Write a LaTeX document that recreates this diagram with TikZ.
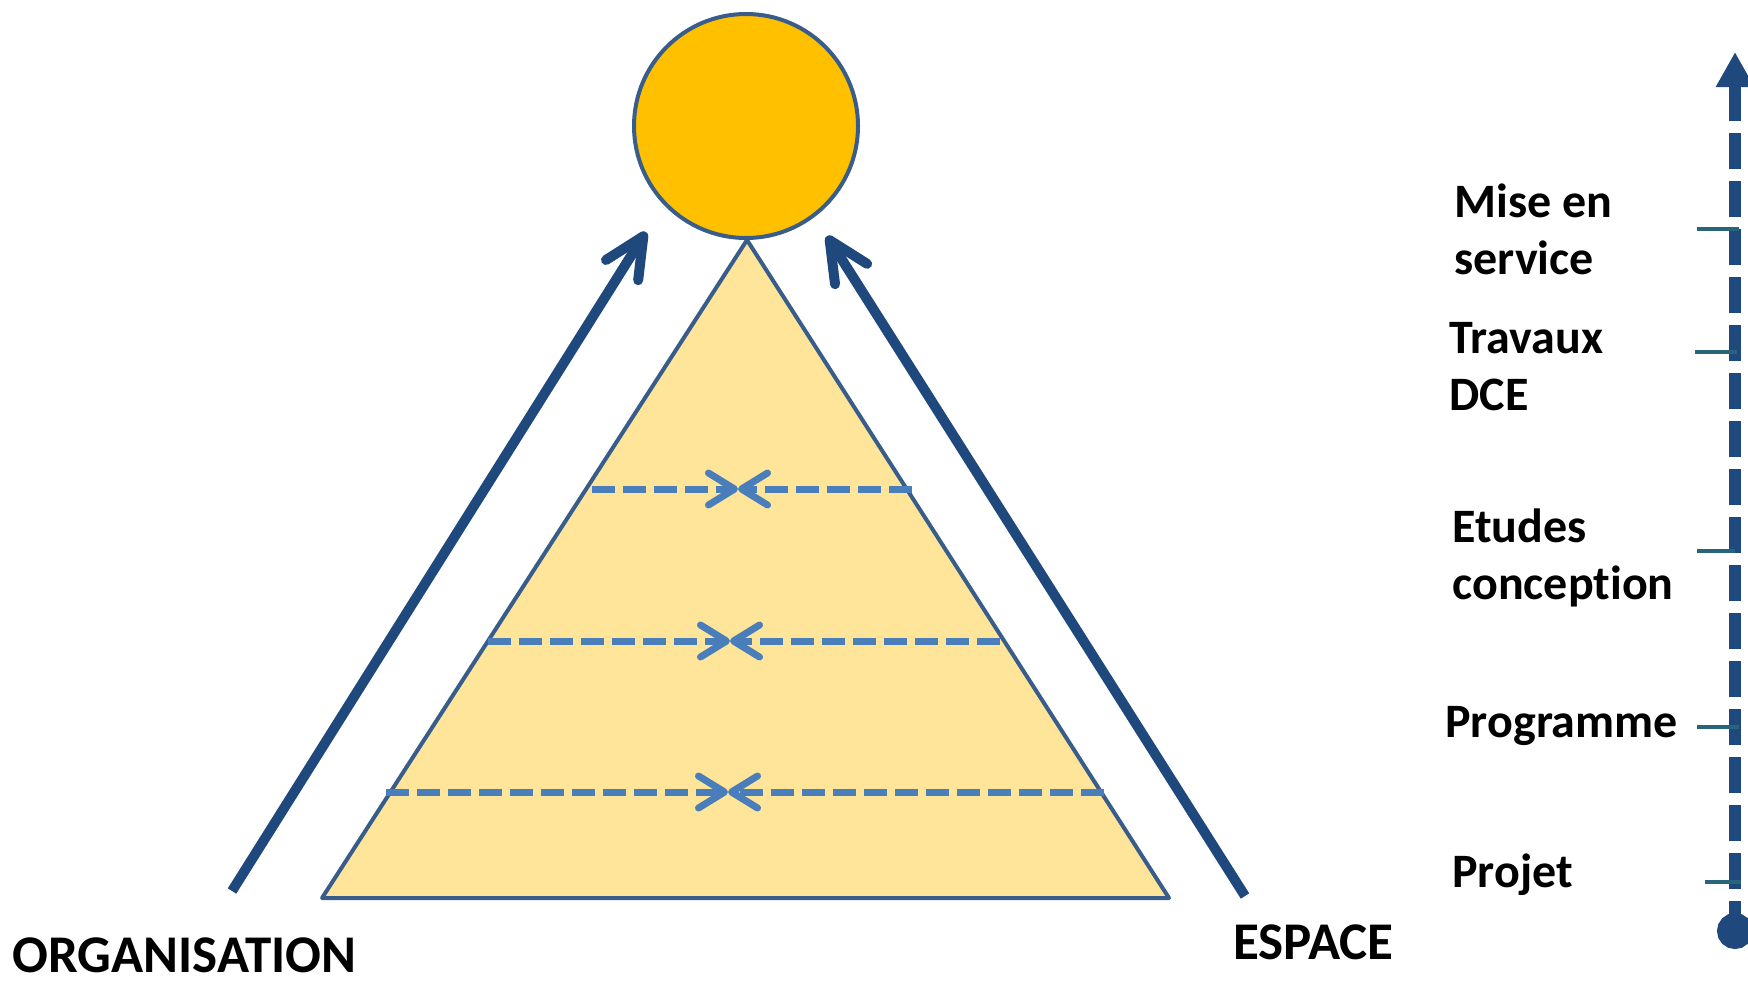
\documentclass[tikz,border=0pt]{standalone}
\usepackage{fontspec}
\setmainfont{Carlito}[Ligatures=NoCommon]
\usetikzlibrary{arrows.meta}
\definecolor{navy}{RGB}{31,73,125}
\definecolor{edgeblue}{RGB}{56,93,138}
\definecolor{sunfill}{RGB}{255,192,0}
\definecolor{pyrfill}{RGB}{255,229,153}
\definecolor{linkblue}{RGB}{74,126,187}
\definecolor{tickteal}{RGB}{40,100,122}
\begin{document}
\begin{tikzpicture}[x=0.5pt,y=-0.5pt,
  bigarrow/.style={line width=5pt, navy, -{Straight Barb[length=20pt,width=19pt,round]}},
  meetline/.style={line width=3.5pt, linkblue, dash pattern=on 11.5pt off 4pt, -{Straight Barb[length=13pt,width=16pt,round]}},
  phase/.style={font=\fontsize{24}{28.5}\selectfont\bfseries, anchor=west, inner sep=0pt, align=left},
  axislabel/.style={font=\fontsize{26.5}{30}\selectfont\bfseries, anchor=west, inner sep=0pt},
  tick/.style={line width=2pt, tickteal}]
\useasboundingbox (0,0) rectangle (1748,980);

% Pyramid
\coordinate (apex) at (747,240);
\coordinate (baseL) at (322,898);
\coordinate (baseR) at (1169,898);
\draw[edgeblue, line width=2pt, fill=pyrfill, line join=round] (apex) -- (baseR) -- (baseL) -- cycle;

% Top circle
\node (sun) [circle, draw=edgeblue, line width=2pt, fill=sunfill, inner sep=0pt, minimum size=112pt] at (746,126) {};

% Meeting lines inside the pyramid
\coordinate (rowAl) at (592,489); \coordinate (rowAm) at (738,489); \coordinate (rowAr) at (912,489);
\coordinate (rowBl) at (488,641); \coordinate (rowBm) at (730,641); \coordinate (rowBr) at (1000,641);
\coordinate (rowCl) at (386,792); \coordinate (rowCm) at (728,792); \coordinate (rowCr) at (1104,792);
\draw[meetline] (rowAl) -- (rowAm);
\draw[meetline] (rowAr) -- (rowAm);
\draw[meetline] (rowBl) -- (rowBm);
\draw[meetline] (rowBr) -- (rowBm);
\draw[meetline] (rowCl) -- (rowCm);
\draw[meetline] (rowCr) -- (rowCm);

% Side arrows
\coordinate (orgfoot) at (232,891);
\coordinate (orgtip) at (646,232);
\coordinate (espfoot) at (1245,896);
\coordinate (esptip) at (827,236);
\draw[bigarrow] (orgfoot) -- (orgtip);
\draw[bigarrow] (espfoot) -- (esptip);
\node (org) [axislabel] at (12,955) {ORGANISATION};
\node (esp) [axislabel] at (1233,942) {ESPACE};

% Time line
\coordinate (tstart) at (1735,949);
\coordinate (tend) at (1735,52);
\draw[navy, line width=6pt, dash pattern=on 18pt off 6pt, dash phase=9pt,
  {Circle[length=18pt,width=18pt]}-{Triangle[length=17.5pt,width=18pt]}] (tstart) -- (tend);

% Ticks
\coordinate (tkAa) at (1697,229); \coordinate (tkAb) at (1739,229);
\coordinate (tkBa) at (1695,352); \coordinate (tkBb) at (1737,352);
\coordinate (tkCa) at (1697,551); \coordinate (tkCb) at (1735,551);
\coordinate (tkDa) at (1697,727); \coordinate (tkDb) at (1739,727);
\coordinate (tkEa) at (1705,882); \coordinate (tkEb) at (1741,882);
\draw[tick] (tkAa) -- (tkAb);
\draw[tick] (tkBa) -- (tkBb);
\draw[tick] (tkCa) -- (tkCb);
\draw[tick] (tkDa) -- (tkDb);
\draw[tick] (tkEa) -- (tkEb);

% Phase labels
\node (service) [phase] at (1454,229) {Mise en\\service};
\node (travaux) [phase] at (1449,367) {Travaux\\DCE};
\node (etudes) [phase] at (1452,558) {Etudes\\conception};
\node (programme) [phase] at (1445,726) {Programme};
\node (projet) [phase] at (1452,875) {Projet};
\end{tikzpicture}
\end{document}
